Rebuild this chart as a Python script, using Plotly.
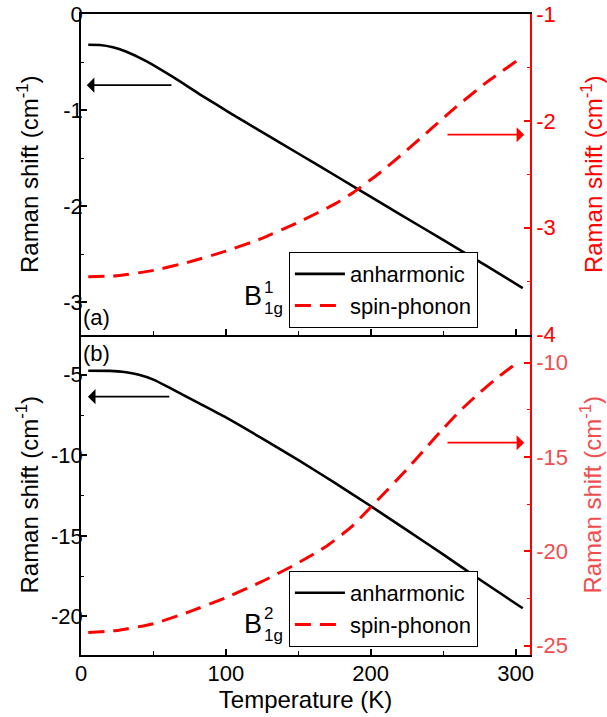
import plotly.graph_objects as go

# ---------------- data ----------------
# panel (a) B1g^1
T_a_anh = [5, 13, 22, 31, 45, 64, 82, 103, 123, 137, 165, 190, 220, 250, 280, 305]
a_anh = [-0.32, -0.322, -0.345, -0.39, -0.49, -0.66, -0.835, -1.03, -1.21, -1.335,
         -1.585, -1.81, -2.08, -2.35, -2.62, -2.85]
T_a_sp = [5, 25, 50, 75, 100, 125, 150, 175, 188, 205, 222, 243, 259, 280, 305]
a_sp = [-3.46, -3.45, -3.40, -3.32, -3.22, -3.10, -2.95, -2.78, -2.67, -2.50,
        -2.31, -2.06, -1.87, -1.64, -1.40]

# panel (b) B1g^2
T_b_anh = [5, 20, 30, 40, 50, 62, 80, 100, 125, 151, 175, 200, 225, 250, 275, 305]
b_anh = [-4.75, -4.76, -4.83, -5.0, -5.3, -5.85, -6.7, -7.65, -8.95, -10.35,
         -11.7, -13.15, -14.65, -16.15, -17.7, -19.5]
T_b_sp = [5, 25, 50, 75, 100, 125, 149, 170, 186, 204, 225, 236, 250, 261, 275, 289, 303]
b_sp = [-24.3, -24.2, -23.84, -23.2, -22.46, -21.6, -20.66, -19.7, -18.75, -17.35,
        -15.65, -14.7, -13.5, -12.6, -11.6, -10.7, -9.9]

x_ticks = [0, 100, 200, 300]
FONT = "Liberation Sans, Arial, sans-serif"
RED = "#FF0000"
RED2 = "#F04E4E"

fig = go.Figure()
fig.add_trace(go.Scatter(x=T_a_anh, y=a_anh, xaxis="x2", yaxis="y3", mode="lines",
                         name="anharmonic", legend="legend",
                         line=dict(color="black", width=2.6, shape="spline", smoothing=0.5)))
fig.add_trace(go.Scatter(x=T_a_sp, y=a_sp, xaxis="x2", yaxis="y4", mode="lines",
                         name="spin-phonon", legend="legend",
                         line=dict(color=RED, width=3, dash="16px,9px", shape="spline", smoothing=0.5)))
fig.add_trace(go.Scatter(x=T_b_anh, y=b_anh, xaxis="x", yaxis="y", mode="lines",
                         name="anharmonic", legend="legend2",
                         line=dict(color="black", width=2.6, shape="spline", smoothing=0.5)))
fig.add_trace(go.Scatter(x=T_b_sp, y=b_sp, xaxis="x", yaxis="y2", mode="lines",
                         name="spin-phonon", legend="legend2",
                         line=dict(color=RED, width=3, dash="16px,9px", shape="spline", smoothing=0.5)))

common_x = dict(range=[0, 310], tickvals=x_ticks, ticks="inside", ticklen=6, tickwidth=1.5,
                tickcolor="black", showline=True, linecolor="black", linewidth=1.8,
                showgrid=False, zeroline=False, automargin=False,
                minor=dict(dtick=50, ticks="inside", ticklen=4, tickwidth=1.2, tickcolor="black"))

title_font = dict(family=FONT, size=24, color="black")
tick_font = dict(family=FONT, size=22, color="black")
ycommon = dict(automargin=False, ticklabeloverflow="allow", ticks="inside", ticklen=6,
               tickwidth=1.5, showline=True, linewidth=1.8, showgrid=False, zeroline=False)

fig.update_layout(
    width=607, height=717,
    margin=dict(l=81, r=77, t=14, b=62),
    paper_bgcolor="white", plot_bgcolor="white",
    font=dict(family=FONT, size=22, color="black"),
    xaxis=dict(domain=[0, 1], anchor="y", tickfont=tick_font, ticklabelstandoff=-2,
               ticklabeloverflow="allow",
               title=dict(text="Temperature (K)", font=title_font, standoff=2), **common_x),
    xaxis2=dict(domain=[0, 1], anchor="y3", matches="x", showticklabels=False, mirror=True,
                **common_x),
    yaxis=dict(domain=[0, 0.5], anchor="x", range=[-22.4, -2.5], tickvals=[-5, -10, -15, -20],
               ticktext=["-5", "-10", "-15", "-20"], ticklabelstandoff=-8,
               tickcolor="black", linecolor="black", tickfont=tick_font,
               minor=dict(dtick=2.5, ticks="inside", ticklen=3, tickwidth=1.2, tickcolor="black"),
               title=dict(text="Raman shift (cm<sup>-1</sup>)", font=title_font, standoff=6),
               **ycommon),
    yaxis2=dict(domain=[0, 0.5], anchor="x", overlaying="y", side="right", range=[-25.5, -8.5],
                tickvals=[-10, -15, -20, -25], ticktext=["-10", "-15", "-20", "-25"],
                tickcolor=RED, linecolor=RED,
                tickfont=dict(family=FONT, size=22, color=RED2),
                minor=dict(dtick=2.5, ticks="inside", ticklen=3, tickwidth=1.2, tickcolor=RED),
                title=dict(text="Raman shift (cm<sup>-1</sup>)",
                           font=dict(family=FONT, size=24, color=RED2), standoff=17),
                **ycommon),
    yaxis3=dict(domain=[0.5, 1], anchor="x2", range=[-3.333, 0], tickvals=[0, -1, -2, -3],
                ticktext=["0", "-1", "-2", "-3"], ticklabelstandoff=-8,
                tickcolor="black", linecolor="black", tickfont=tick_font,
                minor=dict(dtick=0.5, ticks="inside", ticklen=3, tickwidth=1.2, tickcolor="black"),
                title=dict(text="Raman shift (cm<sup>-1</sup>)", font=title_font, standoff=18),
                **ycommon),
    yaxis4=dict(domain=[0.5, 1], anchor="x2", overlaying="y3", side="right", range=[-4, -1],
                tickvals=[-1, -2, -3, -4], ticktext=["-1", "-2", "-3", "-4"],
                tickcolor=RED, linecolor=RED,
                tickfont=dict(family=FONT, size=22, color=RED),
                minor=dict(dtick=0.5, ticks="inside", ticklen=3, tickwidth=1.2, tickcolor=RED),
                title=dict(text="Raman shift (cm<sup>-1</sup>)",
                           font=dict(family=FONT, size=24, color=RED), standoff=30),
                **ycommon),
    legend=dict(x=0.884, y=0.510, xanchor="right", yanchor="bottom",
                bgcolor="white", bordercolor="black", borderwidth=1,
                font=dict(family=FONT, size=22, color="black"), itemwidth=50,
                tracegroupgap=0),
    legend2=dict(x=0.884, y=0.0125, xanchor="right", yanchor="bottom",
                 bgcolor="white", bordercolor="black", borderwidth=1,
                 font=dict(family=FONT, size=22, color="black"), itemwidth=50,
                 tracegroupgap=0),
    showlegend=True,
)

annots = []
# arrows
arrow_specs = [
    dict(x=4, y=-0.74, ax=63.5, ay=-0.74, xref="x2", yref="y3", axref="x2", ayref="y3", c="black"),
    dict(x=306, y=-2.13, ax=252, ay=-2.13, xref="x2", yref="y4", axref="x2", ayref="y4", c=RED),
    dict(x=4.8, y=-6.36, ax=62, ay=-6.36, xref="x", yref="y", axref="x", ayref="y", c="black"),
    dict(x=306, y=-14.24, ax=252, ay=-14.24, xref="x", yref="y2", axref="x", ayref="y2", c=RED),
]
for s in arrow_specs:
    annots.append(dict(x=s["x"], y=s["y"], ax=s["ax"], ay=s["ay"], xref=s["xref"], yref=s["yref"],
                       axref=s["axref"], ayref=s["ayref"], text="", showarrow=True,
                       arrowhead=1, arrowsize=1.4, arrowwidth=1.8, arrowcolor=s["c"]))

# panel labels
annots.append(dict(x=0.001, y=0.527, xref="paper", yref="paper", text="(a)", showarrow=False,
                   xanchor="left", yanchor="middle", font=dict(family=FONT, size=22, color="black")))
annots.append(dict(x=0.001, y=0.471, xref="paper", yref="paper", text="(b)", showarrow=False,
                   xanchor="left", yanchor="middle", font=dict(family=FONT, size=22, color="black")))

# mode labels B_1g^1 and B_1g^2
def mode_label(yB, ysup, ysub, sup):
    annots.append(dict(x=0.407, y=yB, xref="paper", yref="paper", text="B", showarrow=False,
                       xanchor="right", yanchor="middle", font=dict(family=FONT, size=27, color="black")))
    annots.append(dict(x=0.403, y=ysup, xref="paper", yref="paper", text=sup, showarrow=False,
                       xanchor="left", yanchor="middle", font=dict(family=FONT, size=17, color="black")))
    annots.append(dict(x=0.403, y=ysub, xref="paper", yref="paper", text="1g", showarrow=False,
                       xanchor="left", yanchor="middle", font=dict(family=FONT, size=17, color="black")))

mode_label(0.560, 0.573, 0.540, "1")
mode_label(0.049, 0.064, 0.031, "2")

fig.update_layout(annotations=annots)
fig.write_html("out.html", config={"displayModeBar": False},
               post_script="document.body.style.margin='0';")
